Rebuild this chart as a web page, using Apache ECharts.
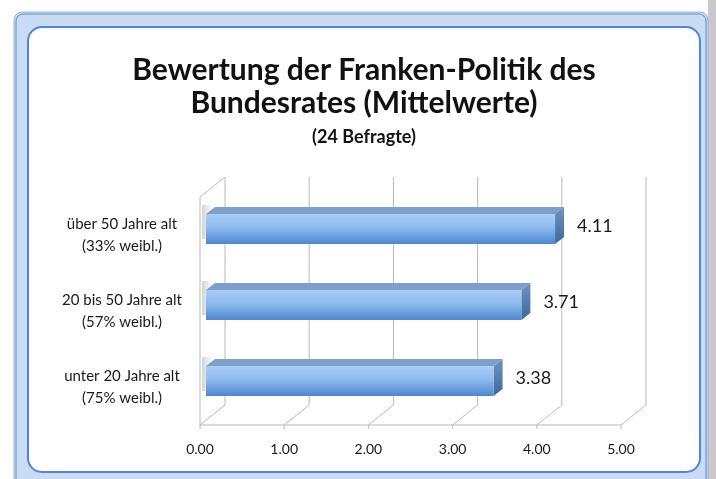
<!DOCTYPE html>
<html>
<head>
<meta charset="utf-8">
<script src="https://cdn.jsdelivr.net/npm/echarts@6/dist/echarts.min.js"></script>
<style>
  html, body { margin: 0; padding: 0; background: #fff; }
  #main { width: 716px; height: 479px; }
</style>
</head>
<body>
<div id="main"></div>
<script>
// Daten
var categories = ['unter 20 Jahre alt\n(75% weibl.)', '20 bis 50 Jahre alt\n(57% weibl.)', 'über 50 Jahre alt\n(33% weibl.)'];
var values = [3.38, 3.71, 4.11];
var xTicks = [0, 1, 2, 3, 4, 5];

// 3D-Versatz (Tiefe der Wände und Balken)
var DX = 25, DY = -20;
var BX1 = 9, BY1 = -6, BX2 = 9, BY2 = -7;
var wallColor = '#b9b9b9';

var myChart = echarts.init(document.getElementById('main'));

function renderWalls(params, api) {
    var t = api.value(0);
    var cs = params.coordSys;
    var x = api.coord([t, 0])[0];
    var top = cs.y, bottom = cs.y + cs.height;
    var ls = { stroke: wallColor, lineWidth: 1, fill: null };
    var children = [
        { type: 'line', shape: { x1: x, y1: bottom, x2: x + DX, y2: bottom + DY }, style: ls },
        { type: 'line', shape: { x1: x + DX, y1: bottom + DY, x2: x + DX, y2: top + DY }, style: ls },
        { type: 'line', shape: { x1: x, y1: bottom, x2: x, y2: bottom + 4 }, style: ls }
    ];
    if (t === 0) {
        children.push({ type: 'line', shape: { x1: x, y1: top, x2: x, y2: bottom }, style: ls });
        children.push({ type: 'line', shape: { x1: x, y1: top, x2: x + DX, y2: top + DY }, style: ls });
        children.push({ type: 'line', shape: { x1: x, y1: bottom, x2: cs.x + cs.width, y2: bottom }, style: ls });
    }
    return { type: 'group', children: children };
}

function renderBars(params, api) {
    var v = api.value(0);
    var idx = api.value(1);
    var s = api.coord([0, idx]);
    var e = api.coord([v, idx]);
    var h = 30;
    var xl = s[0] + 6, xr = e[0] + BX1;
    var yc = e[1] + BY1;
    var yt = yc - h / 2, yb = yc + h / 2;
    var front = new echarts.graphic.LinearGradient(0, 0, 0, 1, [
        { offset: 0, color: '#a9cdf6' },
        { offset: 0.45, color: '#8ebbee' },
        { offset: 1, color: '#4e87cd' }
    ]);
    var side = new echarts.graphic.LinearGradient(0, 0, 0, 1, [
        { offset: 0, color: '#6f93c2' },
        { offset: 1, color: '#3d689d' }
    ]);
    var shadow = new echarts.graphic.LinearGradient(0, 0, 1, 0, [
        { offset: 0, color: 'rgba(110,110,110,0.30)' },
        { offset: 1, color: 'rgba(110,110,110,0)' }
    ]);
    return {
        type: 'group',
        children: [
            { type: 'rect', shape: { x: s[0] + 2, y: yt - 9, width: 10, height: h + 4 }, style: { fill: shadow } },
            { type: 'polygon', shape: { points: [[xl, yt], [xr, yt], [xr + BX2, yt + BY2], [xl + BX2, yt + BY2]] }, style: { fill: '#7f9fcb' } },
            { type: 'polygon', shape: { points: [[xr, yt], [xr + BX2, yt + BY2], [xr + BX2, yb + BY2], [xr, yb]] }, style: { fill: side } },
            { type: 'rect', shape: { x: xl, y: yt, width: xr - xl, height: h }, style: { fill: front } },
            { type: 'text', x: xr + BX2 + 13, y: yc - 3, style: {
                text: v.toFixed(2), fill: '#1a1a1a', font: '18px Lato, sans-serif',
                textAlign: 'left', textVerticalAlign: 'middle' } }
        ]
    };
}

var option = {
    animation: false,
    backgroundColor: '#ffffff',
    title: {
        text: 'Bewertung der Franken-Politik des\nBundesrates (Mittelwerte)',
        subtext: '(24 Befragte)',
        left: 364,
        textAlign: 'center',
        top: 54,
        padding: 0,
        itemGap: 7,
        textStyle: { fontFamily: 'Lato', fontWeight: 'bold', fontSize: 30, lineHeight: 33, color: '#111' },
        subtextStyle: { fontFamily: 'Lato', fontWeight: 'bold', fontSize: 18, lineHeight: 20, color: '#111' }
    },
    graphic: [
        { type: 'rect', z: -10, shape: { x: 708, y: 0, width: 8, height: 479 }, style: { fill: '#c9c9c9' } },
        { type: 'rect', z: -9, shape: { x: 14, y: 12, width: 694, height: 480, r: 8 }, style: { fill: '#cadcf3', stroke: '#9cb2d2', lineWidth: 1 } },
        { type: 'rect', z: -8, shape: { x: 16, y: 14, width: 690, height: 480, r: 7 }, style: { fill: null, stroke: '#5b8de0', lineWidth: 1 } },
        { type: 'rect', z: -7, shape: { x: 28, y: 27, width: 672, height: 445, r: 14 }, style: { fill: '#ffffff', stroke: '#4f84dc', lineWidth: 2 } }
    ],
    grid: { left: 200, right: 95, top: 197, bottom: 54 },
    xAxis: {
        type: 'value',
        min: 0, max: 5, interval: 1,
        axisLine: { show: false },
        axisTick: { show: false },
        splitLine: { show: false },
        axisLabel: {
            margin: 17, color: '#1a1a1a', fontFamily: 'Lato', fontSize: 14,
            formatter: function (v) { return v.toFixed(2); }
        }
    },
    yAxis: {
        type: 'category',
        data: categories,
        axisLine: { show: false },
        axisTick: { show: false },
        axisLabel: {
            margin: 78, color: '#1a1a1a', fontFamily: 'Lato', fontSize: 15,
            lineHeight: 22, align: 'center'
        }
    },
    series: [
        {
            type: 'custom',
            renderItem: renderWalls,
            data: xTicks.map(function (t) { return [t, 0]; }),
            encode: { x: 0, y: 1 },
            z: 1,
            silent: true
        },
        {
            type: 'custom',
            renderItem: renderBars,
            data: values.map(function (v, i) { return [v, i]; }),
            encode: { x: 0, y: 1 },
            z: 2
        }
    ]
};

myChart.setOption(option);
</script>
</body>
</html>
